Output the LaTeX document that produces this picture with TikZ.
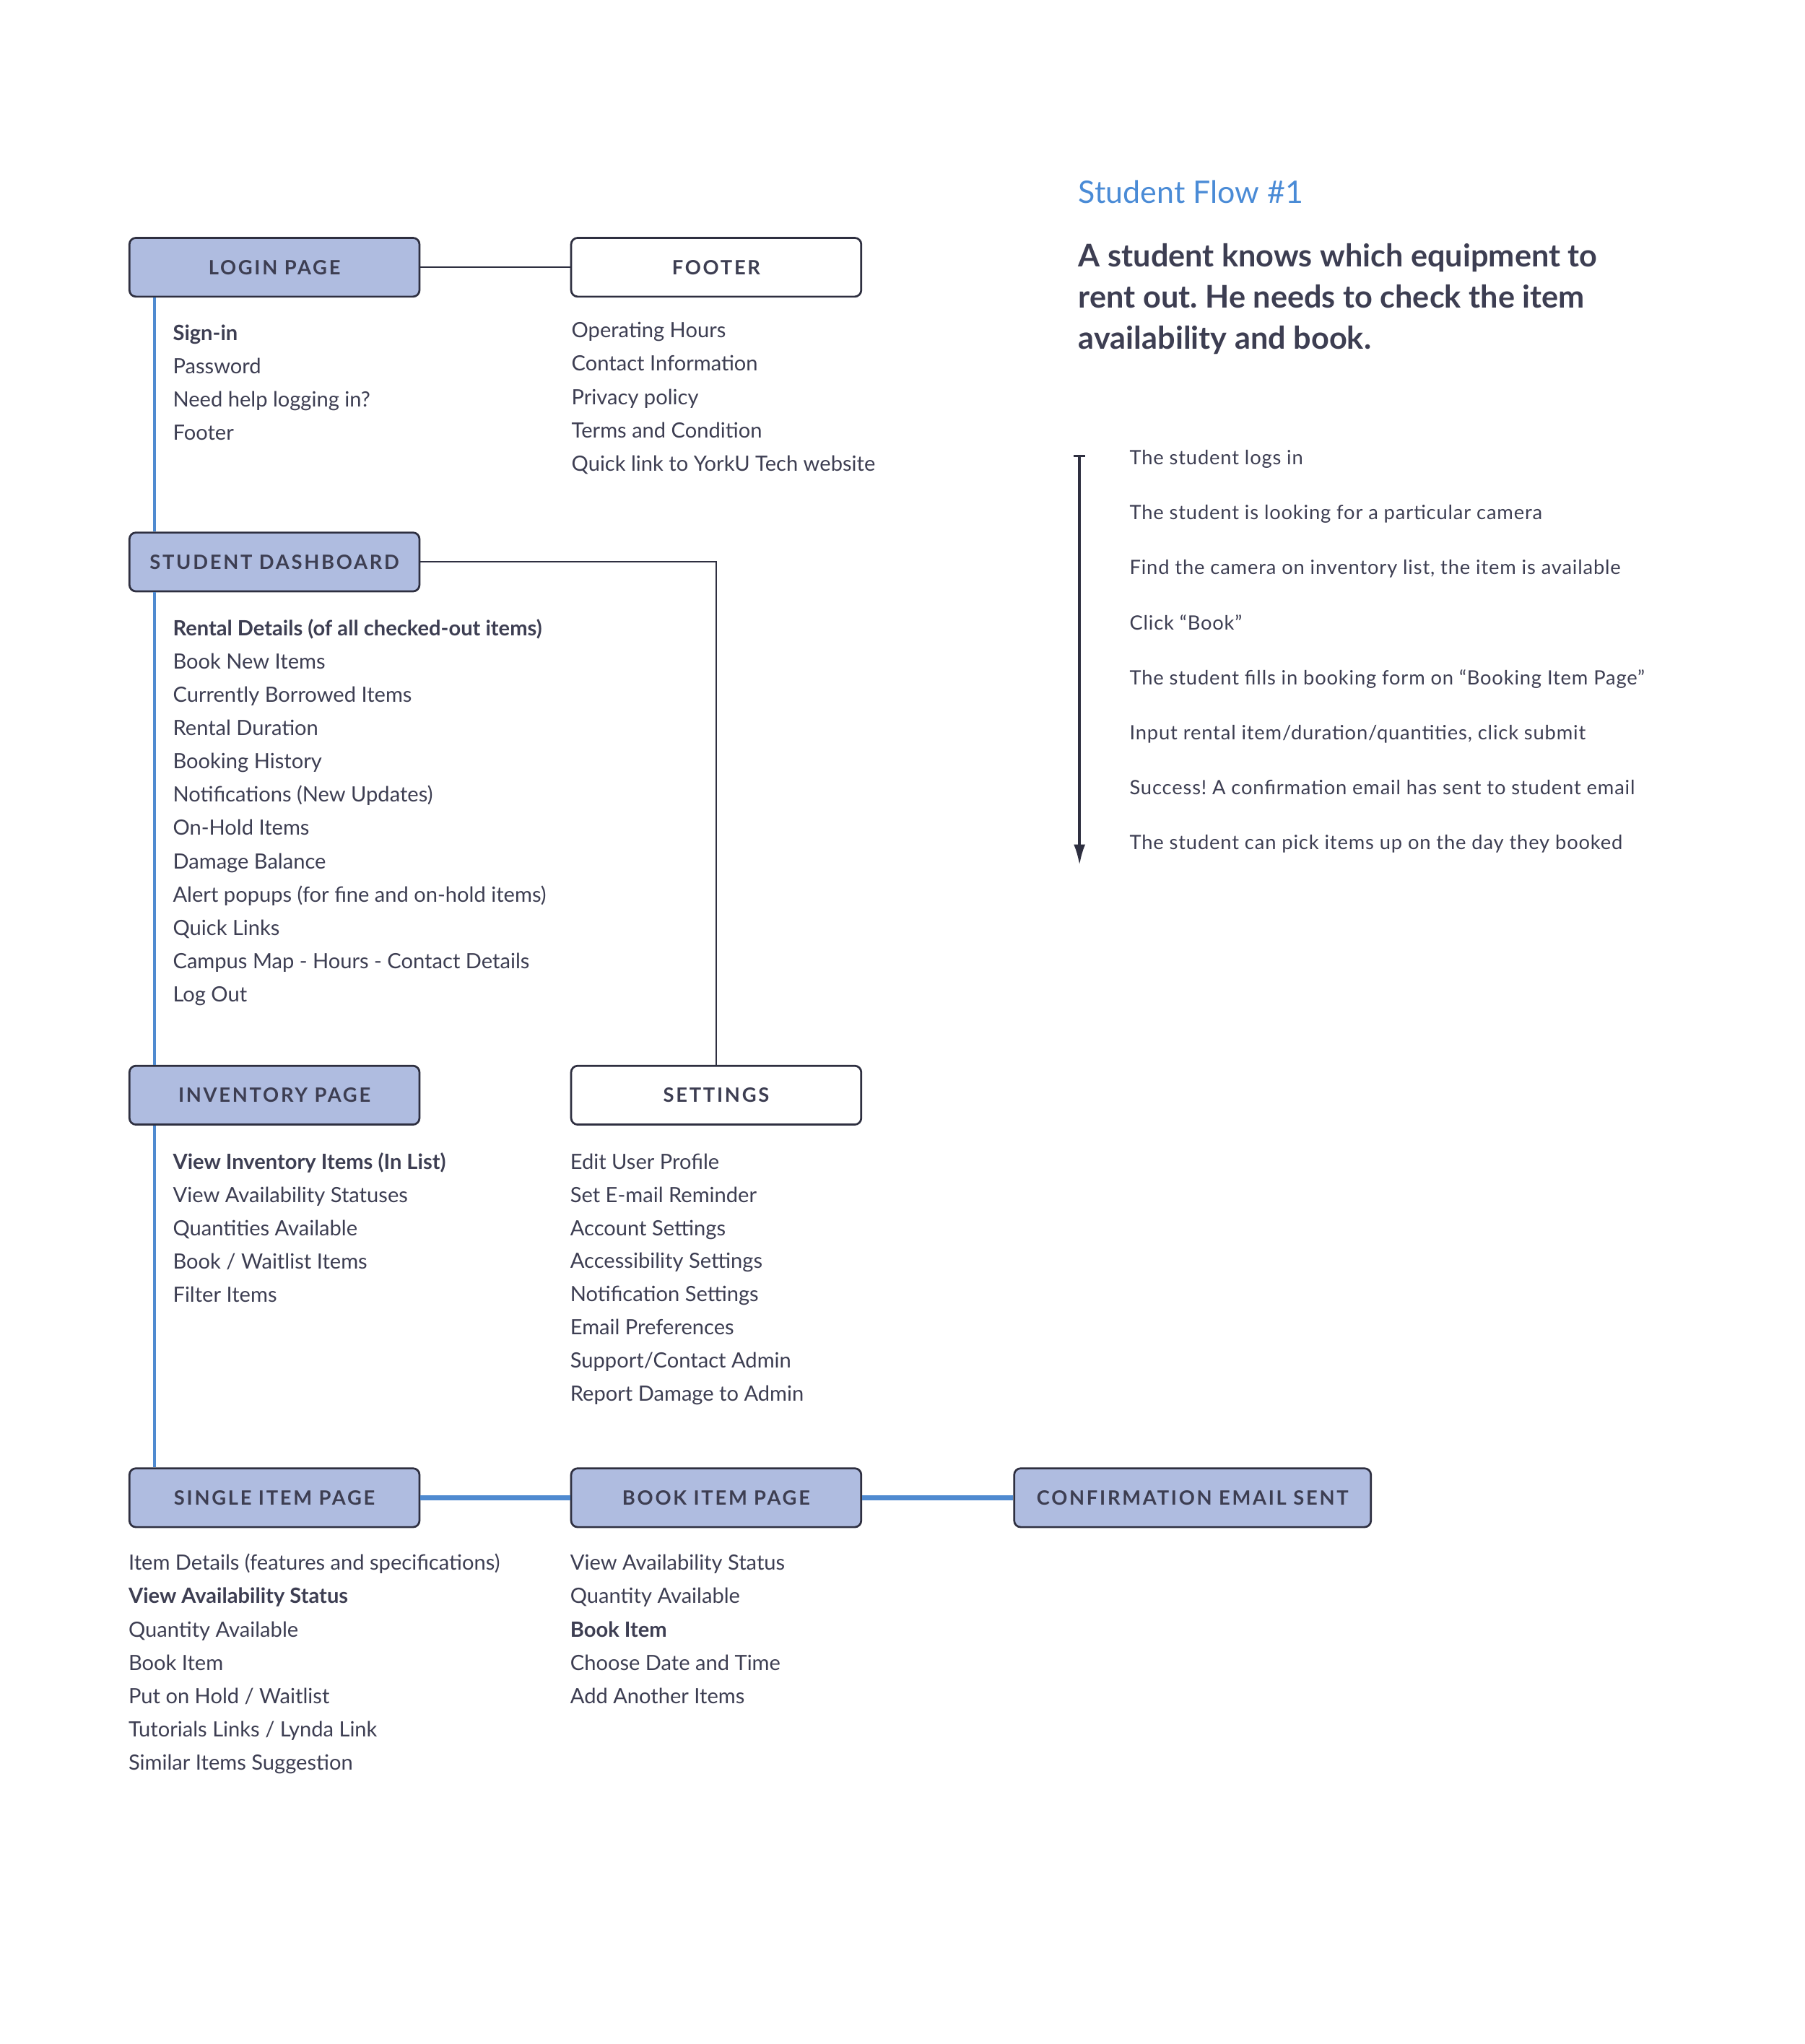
\documentclass[tikz,border=0pt]{standalone}
\usepackage{fontspec}
\setmainfont{Lato}
\newfontfamily\capsfont[LetterSpace=10]{Lato}
\newfontfamily\stepfont[LetterSpace=3]{Lato}
\usetikzlibrary{arrows.meta}
\frenchspacing
\definecolor{ink}{HTML}{3D3E52}
\definecolor{boxline}{HTML}{2E2F40}
\definecolor{boxfill}{HTML}{AFBCE0}
\definecolor{flowblue}{HTML}{4F8AD0}
\definecolor{titleblue}{HTML}{4A8BD6}
\tikzset{
  page/.style={draw=boxline, line width=0.85pt, rounded corners=0.1cm, minimum width=4.44cm, minimum height=0.9cm, inner sep=0pt, text=ink, font=\capsfont\bfseries\fontsize{8.6}{10}\selectfont},
  mainpage/.style={page, fill=boxfill},
  sidepage/.style={page, fill=white},
  item/.style={anchor=mid west, inner sep=0pt, text=ink, font=\fontsize{9.15}{11}\selectfont},
  stepitem/.style={anchor=mid west, inner sep=0pt, text=ink, font=\stepfont\fontsize{8.6}{10}\selectfont},
  spine/.style={draw=flowblue, line width=1.4pt},
  link/.style={draw=boxline, line width=0.6pt},
  flow/.style={draw=flowblue, line width=2.3pt}
}
\begin{document}
\begin{tikzpicture}[x=0.02cm, y=-0.02cm]
\useasboundingbox (0,0) rectangle (1381,1564);

% Pages
\node[mainpage] (login) at (210,204.5) {LOGIN PAGE};
\node[sidepage] (footer) at (548,204.5) {FOOTER};
\node[mainpage] (dash) at (210,430) {STUDENT DASHBOARD};
\node[mainpage] (inventory) at (210,838) {INVENTORY PAGE};
\node[sidepage] (settings) at (548,838) {SETTINGS};
\node[mainpage] (single) at (210,1146) {SINGLE ITEM PAGE};
\node[mainpage] (book) at (548,1146) {BOOK ITEM PAGE};
\node[mainpage, minimum width=5.46cm] (confirm) at (912.5,1146) {CONFIRMATION EMAIL SENT};

% Connectors
\draw[spine] ([xshift=0.4cm]login.south west) -- ([xshift=0.4cm]dash.north west);
\draw[spine] ([xshift=0.4cm]dash.south west) -- ([xshift=0.4cm]inventory.north west);
\draw[spine] ([xshift=0.4cm]inventory.south west) -- ([xshift=0.4cm]single.north west);
\draw[link] (login) -- (footer);
\draw[link] (dash.east) -| (settings.north);
\draw[flow] (single) -- (book);
\draw[flow] (book) -- (confirm);

% Login page items
\foreach \t [count=\i] in {\textbf{Sign-in}, Password, Need help logging in?, Footer}
  \node[item] (login-\i) at (132,{256+25.5*(\i-1)}) {\t};

% Footer items
\foreach \t [count=\i] in {Operating Hours, Contact Information, Privacy policy, Terms and Condition, Quick link to YorkU Tech website}
  \node[item] (footer-\i) at (437,{254+25.5*(\i-1)}) {\t};

% Dashboard items
\foreach \t [count=\i] in {\textbf{Rental Details (of all checked-out items)}, Book New Items, Currently Borrowed Items, Rental Duration, Booking History, Notifications (New Updates), On-Hold Items, Damage Balance, Alert popups (for fine and on-hold items), Quick Links, Campus Map - Hours - Contact Details, Log Out}
  \node[item] (dash-\i) at (132,{482+25.45*(\i-1)}) {\t};

% Inventory items
\foreach \t [count=\i] in {\textbf{View Inventory Items (In List)}, View Availability Statuses, Quantities Available, Book / Waitlist Items, Filter Items}
  \node[item] (inventory-\i) at (132,{890+25.5*(\i-1)}) {\t};

% Settings items
\foreach \t [count=\i] in {Edit User Profile, Set E-mail Reminder, Account Settings, Accessibility Settings, Notification Settings, Email Preferences, Support/Contact Admin, Report Damage to Admin}
  \node[item] (settings-\i) at (436,{890+25.4*(\i-1)}) {\t};

% Single item items
\foreach \t [count=\i] in {Item Details (features and specifications), \textbf{View Availability Status}, Quantity Available, Book Item, Put on Hold / Waitlist, Tutorials Links / Lynda Link, Similar Items Suggestion}
  \node[item] (single-\i) at (98,{1197+25.5*(\i-1)}) {\t};

% Book item items
\foreach \t [count=\i] in {View Availability Status, Quantity Available, \textbf{Book Item}, Choose Date and Time, Add Another Items}
  \node[item] (book-\i) at (436,{1197+25.5*(\i-1)}) {\t};

% Student flow
\node[anchor=mid west, inner sep=0pt, text=titleblue, font=\fontsize{13.5}{16}\selectfont] (title) at (825,151) {Student Flow \#1};
\node[anchor=north west, inner sep=0pt, align=left, text=ink, font=\bfseries\fontsize{13.6}{17.9}\selectfont] (story) at (825,186) {A student knows which equipment to\\rent out. He needs to check the item\\availability and book.};

\coordinate (flowtop) at (826,348);
\coordinate (flowbot) at (826,662);
\draw[draw=boxline, line width=1.1pt, {Bar[width=5pt]}-{Latex[length=9pt,width=5pt]}] (flowtop) -- (flowbot);
\foreach \t [count=\i] in {The student logs in, The student is looking for a particular camera, {Find the camera on inventory list, the item is available}, Click “Book”, The student fills in booking form on “Booking Item Page”, {Input rental item/duration/quantities, click submit}, Success! A confirmation email has sent to student email, The student can pick items up on the day they booked}
  \node[stepitem] (step-\i) at (864,{351+42.1*(\i-1)}) {\t};
\end{tikzpicture}
\end{document}
